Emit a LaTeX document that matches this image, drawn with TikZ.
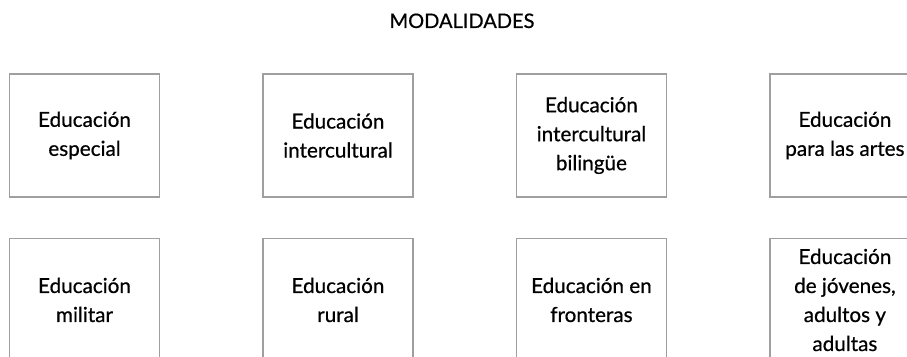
\documentclass[tikz,border=0pt]{standalone}
\usepackage{fontspec}
\setmainfont{Lato}[UprightFeatures={FakeBold=0.6}]
\usetikzlibrary{positioning}

\begin{document}
\begin{tikzpicture}[x=0.75pt, y=0.75pt, node distance={30pt and 76.5pt},
    modal/.style = {draw=gray!75, line width=1.1pt, minimum width=112.5pt, minimum height=92.25pt,
      align=center, inner sep=0pt, font=\fontsize{15.5}{21.75}\selectfont},
    title/.style = {font=\fontsize{15}{17}\selectfont}]
      \clip (0,0) rectangle (907,357);
      \useasboundingbox (0,0) rectangle (907,357);

      \node[title, anchor=base] (tit) at (462,329) {MODALIDADES};

      \node[modal] (esp) at (84.5,221.5) {Educación\\especial};
      \node[modal] (int) [right=of esp] {Educación\\intercultural};
      \node[modal] (bil) [right=of int] {Educación\\intercultural\\bilingüe};
      \node[modal] (art) [right=of bil] {Educación\\para las artes};

      \node[modal] (mil) [below=of esp] {Educación\\militar};
      \node[modal] (rur) [right=of mil] {Educación\\rural};
      \node[modal] (fro) [right=of rur] {Educación en\\fronteras};
      \node[modal] (jov) [right=of fro] {Educación\\de jóvenes,\\adultos y\\adultas};
      \end{tikzpicture}
\end{document}
